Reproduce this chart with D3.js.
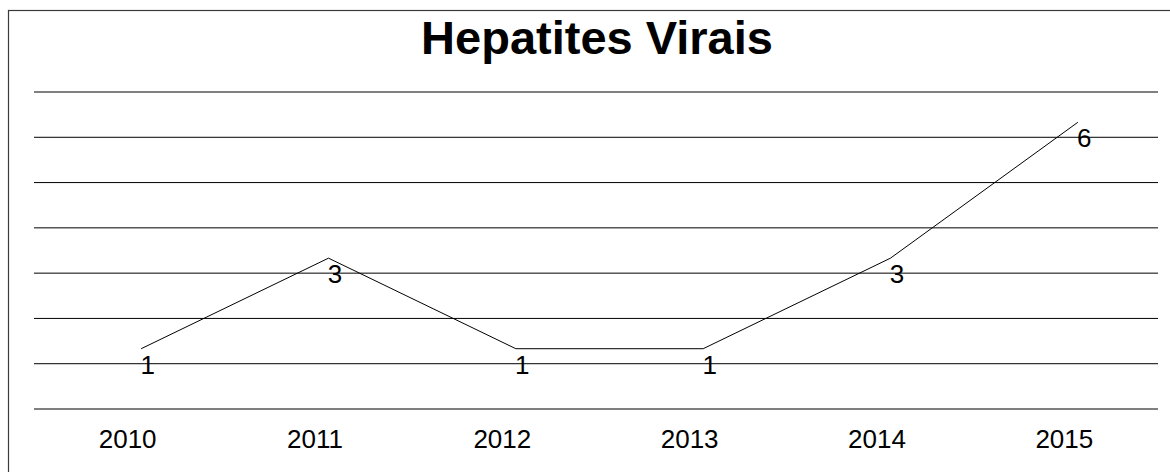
<!DOCTYPE html>
<html>
<head>
<meta charset="utf-8">
<script src="https://cdn.jsdelivr.net/npm/d3@7"></script>
<style>
  html, body { margin: 0; padding: 0; background: #fff; }
  svg { display: block; font-family: "Liberation Sans", Arial, sans-serif; }
</style>
</head>
<body>
<svg id="chart" width="1170" height="472"></svg>
<script>
// Chart data
const title = "Hepatites Virais";
const years = ["2010", "2011", "2012", "2013", "2014", "2015"];
const cases = [1, 3, 1, 1, 3, 6];
const gridValues = [0, 1, 2, 3, 4, 5, 6, 7];

const svg = d3.select("#chart");
const W = 1170, H = 472;

// Plot area
const plot = { left: 34, right: 1158, top: 92, bottom: 409 };

const x = d3.scaleBand()
  .domain(years)
  .range([plot.left, plot.right])
  .paddingInner(0).paddingOuter(0);

const y = d3.scaleLinear()
  .domain([0, 7])
  .range([plot.bottom, plot.top]);

// Outer frame
svg.append("rect")
  .attr("x", 8.5).attr("y", 10.5)
  .attr("width", W + 20).attr("height", H + 20)
  .attr("fill", "none")
  .attr("stroke", "#3a3a3a")
  .attr("stroke-width", 1.2);

// Title
svg.append("text")
  .attr("x", 597).attr("y", 54)
  .attr("text-anchor", "middle")
  .attr("font-size", 47)
  .attr("font-weight", "bold")
  .attr("fill", "#000")
  .text(title);

// Horizontal gridlines
svg.append("g")
  .selectAll("line")
  .data(gridValues)
  .join("line")
  .attr("x1", plot.left).attr("x2", plot.right)
  .attr("y1", d => y(d)).attr("y2", d => y(d))
  .attr("stroke", "#000")
  .attr("stroke-width", 1);

// Category axis labels
const xAxis = d3.axisBottom(x).tickSize(0).tickPadding(0);
const gx = svg.append("g")
  .attr("transform", `translate(0, ${plot.bottom})`)
  .call(xAxis);
gx.select(".domain").remove();
gx.selectAll("text")
  .attr("font-size", 26)
  .attr("font-family", "'Liberation Sans', Arial, sans-serif")
  .attr("fill", "#000")
  .attr("dy", null)
  .attr("y", 39);

// Series line (drawn with a small offset, as rendered by the source spreadsheet)
const lineOffsetX = 13.5, lineOffsetY = -15;
const line = d3.line()
  .x((d, i) => x(years[i]) + x.bandwidth() / 2 + lineOffsetX)
  .y(d => y(d) + lineOffsetY);

svg.append("path")
  .datum(cases)
  .attr("d", line)
  .attr("fill", "none")
  .attr("stroke", "#000")
  .attr("stroke-width", 1);

// Value labels
svg.append("g")
  .selectAll("text")
  .data(cases)
  .join("text")
  .attr("x", (d, i) => x(years[i]) + x.bandwidth() / 2 + 20)
  .attr("y", d => y(d) + 10)
  .attr("text-anchor", "middle")
  .attr("font-size", 26)
  .attr("fill", "#000")
  .text(d => d);
</script>
</body>
</html>
